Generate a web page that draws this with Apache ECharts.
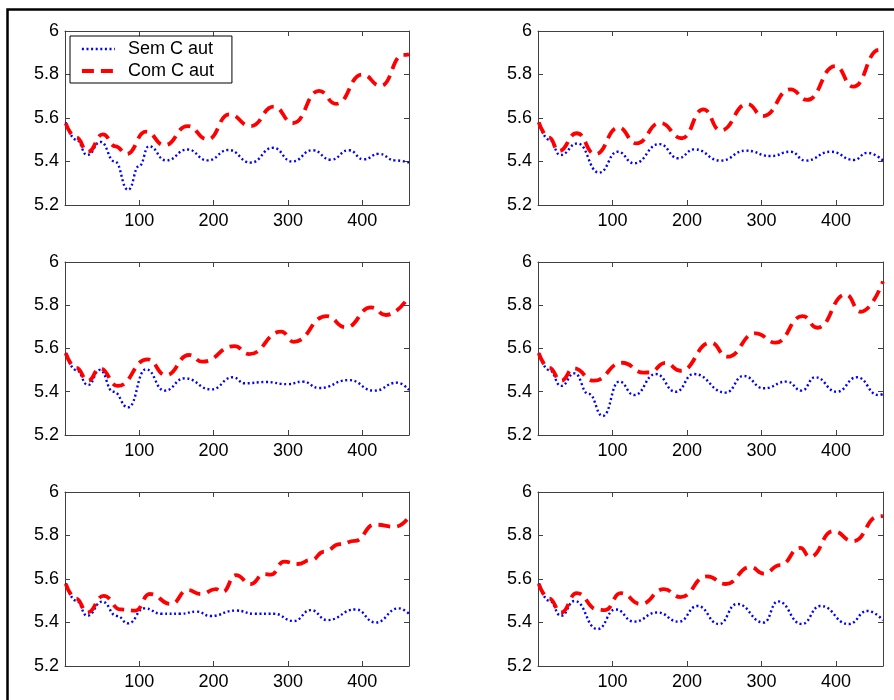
<!DOCTYPE html>
<html>
<head>
<meta charset="utf-8">
<script src="https://cdn.jsdelivr.net/npm/echarts@6/dist/echarts.min.js"></script>
<style>
html,body{margin:0;padding:0;background:#fff;}
#chart{width:894px;height:700px;}
</style>
</head>
<body>
<div id="chart"></div>
<script>
// ---------------- data ----------------
const seriesNames = ['Sem C aut', 'Com C aut'];
const xTicks = [100, 200, 300, 400];
const yTicks = [5.2, 5.4, 5.6, 5.8, 6];
const xMin = 0, xMax = 463;
const yMin = 5.2, yMax = 6;

// Panel 1 (top-left)
const sem1 = [[1,5.58],[15,5.50],[30,5.43],[48,5.49],[67,5.40],[85,5.27],[100,5.38],[113,5.47],[136,5.405],[165,5.455],[192,5.405],[220,5.453],[250,5.395],[280,5.463],[306,5.40],[333,5.452],[358,5.408],[382,5.452],[402,5.41],[422,5.435],[445,5.405],[463,5.395]];
const com1 = [[1,5.575],[15,5.51],[31,5.445],[51,5.525],[68,5.47],[83,5.435],[109,5.537],[134,5.475],[165,5.563],[192,5.502],[221,5.617],[250,5.563],[281,5.652],[307,5.577],[342,5.725],[365,5.665],[400,5.80],[425,5.748],[455,5.89],[463,5.893]];
// Panel 2 (top-right)
const sem2 = [[1,5.58],[15,5.50],[30,5.43],[53,5.483],[82,5.349],[107,5.445],[129,5.392],[163,5.48],[188,5.415],[210,5.456],[245,5.404],[279,5.45],[312,5.425],[339,5.445],[359,5.404],[393,5.445],[424,5.407],[442,5.44],[463,5.404]];
const com2 = [[1,5.58],[15,5.51],[28,5.448],[52,5.53],[77,5.434],[108,5.556],[132,5.483],[164,5.577],[193,5.507],[222,5.64],[245,5.543],[281,5.664],[302,5.609],[339,5.732],[361,5.683],[399,5.839],[423,5.744],[458,5.914],[463,5.916]];
// Panel 3 (middle-left)
const sem3 = [[1,5.58],[15,5.50],[31,5.431],[47,5.501],[65,5.40],[85,5.328],[109,5.504],[134,5.405],[161,5.462],[197,5.411],[226,5.467],[242,5.439],[270,5.445],[300,5.435],[320,5.447],[342,5.417],[382,5.454],[416,5.405],[447,5.442],[463,5.408]];
const com3 = [[1,5.578],[15,5.51],[31,5.451],[47,5.508],[71,5.427],[111,5.55],[136,5.477],[167,5.57],[185,5.539],[228,5.611],[248,5.574],[291,5.678],[308,5.631],[352,5.75],[378,5.698],[412,5.79],[432,5.755],[463,5.84]];
// Panel 4 (middle-right)
const sem4 = [[1,5.58],[15,5.50],[31,5.427],[49,5.485],[68,5.39],[87,5.288],[109,5.447],[129,5.385],[158,5.482],[185,5.40],[209,5.482],[252,5.396],[276,5.473],[303,5.416],[334,5.447],[354,5.405],[372,5.467],[401,5.40],[428,5.467],[457,5.385],[463,5.39]];
const com4 = [[1,5.578],[15,5.51],[31,5.451],[48,5.508],[75,5.451],[113,5.534],[142,5.488],[150,5.49],[171,5.534],[191,5.497],[232,5.627],[254,5.562],[292,5.67],[319,5.627],[355,5.75],[375,5.696],[413,5.85],[433,5.77],[463,5.91]];
// Panel 5 (bottom-left)
const sem5 = [[1,5.58],[15,5.50],[30,5.431],[50,5.496],[70,5.43],[85,5.396],[107,5.465],[130,5.44],[155,5.44],[177,5.45],[196,5.43],[230,5.455],[255,5.44],[281,5.44],[308,5.407],[331,5.457],[353,5.411],[391,5.46],[418,5.40],[449,5.465],[463,5.44]];
const com5 = [[1,5.578],[15,5.51],[30,5.446],[52,5.522],[75,5.46],[95,5.455],[114,5.531],[143,5.485],[165,5.549],[183,5.531],[203,5.553],[212,5.54],[230,5.618],[250,5.577],[268,5.623],[277,5.62],[295,5.68],[313,5.669],[331,5.687],[349,5.726],[370,5.76],[390,5.775],[417,5.85],[444,5.84],[463,5.885]];
// Panel 6 (bottom-right)
const sem6 = [[1,5.58],[15,5.50],[31,5.431],[49,5.499],[80,5.37],[104,5.46],[129,5.404],[160,5.446],[189,5.404],[214,5.476],[243,5.393],[267,5.485],[303,5.40],[322,5.497],[354,5.393],[379,5.476],[417,5.393],[442,5.453],[463,5.41]];
const com6 = [[1,5.578],[15,5.51],[31,5.446],[52,5.535],[80,5.46],[90,5.457],[111,5.535],[138,5.485],[169,5.553],[191,5.517],[227,5.612],[252,5.577],[285,5.655],[303,5.625],[325,5.664],[352,5.743],[365,5.702],[396,5.82],[423,5.774],[457,5.887],[463,5.89]];

const panels = [[sem1, com1], [sem2, com2], [sem3, com3], [sem4, com4], [sem5, com5], [sem6, com6]];

// ---------------- layout ----------------
const colLeft = [65, 538];
const colWidth = [344, 345];
const rowTop = [31, 262, 492];
const rowHeight = [174, 173, 174];
const FONT = "'Liberation Sans', Arial, Helvetica, sans-serif";
const AXIS_COLOR = '#404040';

const grids = [], xAxes = [], yAxes = [], series = [];
for (let i = 0; i < 6; i++) {
  const r = Math.floor(i / 2), c = i % 2;
  grids.push({ left: colLeft[c], top: rowTop[r], width: colWidth[c], height: rowHeight[r], show: false, containLabel: false });
  const xBase = {
    type: 'value', gridIndex: i, min: xMin, max: xMax, interval: 100,
    axisLine: { show: true, onZero: false, lineStyle: { color: AXIS_COLOR, width: 1 } },
    axisTick: { show: true, inside: true, length: 5, lineStyle: { color: AXIS_COLOR } },
    splitLine: { show: false }
  };
  xAxes.push(Object.assign({}, xBase, {
    position: 'bottom',
    axisLabel: {
      show: true, margin: 7, fontSize: 18, fontFamily: FONT, color: '#000',
      showMinLabel: false, showMaxLabel: false,
      formatter: v => (xTicks.indexOf(v) >= 0 ? String(v) : '')
    }
  }));
  xAxes.push(Object.assign({}, xBase, { position: 'top', axisLabel: { show: false } }));
  const yBase = {
    type: 'value', gridIndex: i, min: yMin, max: yMax, interval: 0.2,
    axisLine: { show: true, onZero: false, lineStyle: { color: AXIS_COLOR, width: 1 } },
    axisTick: { show: true, inside: true, length: 5, lineStyle: { color: AXIS_COLOR } },
    splitLine: { show: false }
  };
  yAxes.push(Object.assign({}, yBase, {
    position: 'left',
    axisLabel: {
      show: true, margin: 6, fontSize: 18, fontFamily: FONT, color: '#000',
      formatter: v => {
        const m = yTicks.find(t => Math.abs(t - v) < 1e-6);
        return m === undefined ? '' : String(m);
      }
    }
  }));
  yAxes.push(Object.assign({}, yBase, { position: 'right', axisLabel: { show: false } }));

  series.push({
    name: seriesNames[0], type: 'line', xAxisIndex: 2 * i, yAxisIndex: 2 * i,
    data: panels[i][0], showSymbol: false, symbol: 'none', smooth: 0.5, smoothMonotone: 'x',
    lineStyle: { color: '#0000ff', width: 2.4, type: [2, 2.6], cap: 'butt' },
    itemStyle: { color: '#0000ff' }, z: 2
  });
  series.push({
    name: seriesNames[1], type: 'line', xAxisIndex: 2 * i, yAxisIndex: 2 * i,
    data: panels[i][1], showSymbol: false, symbol: 'none', smooth: 0.5, smoothMonotone: 'x',
    lineStyle: { color: '#ff0000', width: 3.8, type: [12, 7], cap: 'butt' },
    itemStyle: { color: '#ff0000' }, z: 3
  });
}

const chart = echarts.init(document.getElementById('chart'), null, { renderer: 'canvas' });
chart.setOption({
  animation: false,
  backgroundColor: '#fff',
  grid: grids,
  xAxis: xAxes,
  yAxis: yAxes,
  series: series,
  legend: {
    data: seriesNames,
    orient: 'vertical', left: 70, top: 36,
    itemWidth: 33, itemHeight: 14, itemGap: 4,
    padding: [4, 18, 3, 10],
    borderColor: '#000', borderWidth: 1, backgroundColor: '#fff',
    selectedMode: false,
    itemStyle: { opacity: 0 },
    lineStyle: { width: 'inherit', type: 'inherit', color: 'inherit' },
    textStyle: { fontSize: 18, fontFamily: FONT, color: '#000', padding: [0, 0, 0, 8], lineHeight: 18 }
  },
  graphic: [{
    type: 'rect', silent: true, z: 100,
    shape: { x: 7.5, y: 9.5, width: 1000, height: 1000 },
    style: { fill: null, stroke: '#000', lineWidth: 2.5 }
  }]
});
</script>
</body>
</html>
